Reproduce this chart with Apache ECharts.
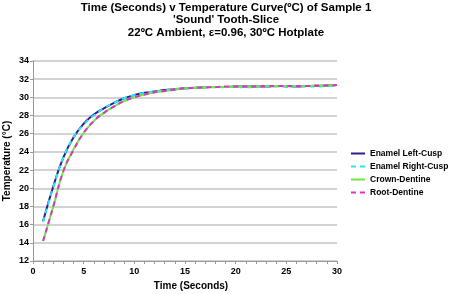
<!DOCTYPE html>
<html>
<head>
<meta charset="utf-8">
<script src="https://cdn.jsdelivr.net/npm/echarts@6/dist/echarts.min.js"></script>
<style>
  html, body { margin: 0; padding: 0; background: #fff; }
  #chart { width: 454px; height: 294px; }
</style>
</head>
<body>
<div id="chart"></div>
<script>
const seconds = [1,2,3,4,5,6,7,8,9,10,11,12,13,14,15,16,17,18,19,20,21,22,23,24,25,26,27,28,29,30];
const enamelLeft = [16.4,20.2,23.4,25.6,27.1,28.1,28.8,29.4,29.9,30.25,30.5,30.65,30.8,30.9,31.0,31.05,31.1,31.15,31.15,31.2,31.2,31.2,31.2,31.25,31.25,31.2,31.25,31.25,31.3,31.35];
const enamelRight = [16.3,20.1,23.4,25.6,27.0,28.0,28.8,29.4,29.9,30.25,30.5,30.65,30.8,30.9,30.95,31.05,31.1,31.1,31.15,31.15,31.1,31.15,31.2,31.2,31.15,31.2,31.2,31.2,31.25,31.3];
const crownDentine = [14.2,18.0,21.9,24.3,26.1,27.4,28.3,29.0,29.6,30.0,30.3,30.55,30.7,30.85,31.0,31.05,31.1,31.15,31.15,31.2,31.2,31.2,31.25,31.25,31.25,31.25,31.25,31.3,31.3,31.35];
const rootDentine = [14.2,18.0,21.9,24.2,26.1,27.4,28.3,29.0,29.6,30.0,30.3,30.55,30.7,30.85,31.0,31.05,31.1,31.15,31.2,31.2,31.2,31.2,31.25,31.25,31.25,31.25,31.25,31.3,31.3,31.35];

function pairs(ys) {
  return seconds.map((t, i) => [t, ys[i]]);
}

const chart = echarts.init(document.getElementById("chart"));
const bold = { fontFamily: "Liberation Sans, Arial, sans-serif", fontWeight: "bold", color: "#000" };

function line(name, ys, color, dashed) {
  return {
    name: name,
    type: "line",
    smooth: true,
    symbol: "none",
    data: pairs(ys),
    lineStyle: { color: color, width: 2, type: dashed ? [5, 4] : "solid" },
    itemStyle: { color: color },
  };
}

const solidIcon = "path://M0,4 H14 V6 H0 Z";
const dashIcon = "path://M0,4 H5 V6 H0 Z M9,4 H14 V6 H9 Z";

chart.setOption({
  animation: false,
  title: {
    text: "Time (Seconds) v Temperature Curve(\u00baC) of Sample 1\n'Sound' Tooth-Slice\n22\u00baC Ambient, \u03b5=0.96, 30\u00baC Hotplate",
    left: 221,
    textAlign: "center",
    top: -4,
    textStyle: Object.assign({}, bold, { fontSize: 11.5, lineHeight: 12.8 }),
  },
  legend: {
    orient: "vertical",
    left: 346,
    top: 144,
    itemWidth: 14,
    itemHeight: 10,
    itemGap: 4,
    textStyle: Object.assign({}, bold, { fontSize: 8.5 }),
    data: [
      { name: "Enamel Left-Cusp", icon: solidIcon },
      { name: "Enamel Right-Cusp", icon: dashIcon },
      { name: "Crown-Dentine", icon: solidIcon },
      { name: "Root-Dentine", icon: dashIcon },
    ],
  },
  grid: { left: 33, right: 117, top: 61, bottom: 33, outerBoundsMode: "none" },
  xAxis: {
    type: "value",
    min: 0,
    max: 30,
    interval: 5,
    name: "Time (Seconds)",
    nameLocation: "middle",
    nameGap: 20,
    nameMoveOverlap: false,
    nameTextStyle: Object.assign({}, bold, { fontSize: 10, padding: [0, 0, 0, 12] }),
    axisLine: { lineStyle: { color: "#999", width: 1 } },
    axisTick: { show: true, length: 3, lineStyle: { color: "#999" } },
    minorTick: { show: true, splitNumber: 5, length: 3, lineStyle: { color: "#999" } },
    splitLine: { show: false },
    axisLabel: Object.assign({}, bold, { fontSize: 9, margin: 6 }),
  },
  yAxis: {
    type: "value",
    min: 12,
    max: 34,
    interval: 2,
    name: "Temperature (\u00b0C)",
    nameLocation: "middle",
    nameGap: 21,
    nameMoveOverlap: false,
    nameTextStyle: Object.assign({}, bold, { fontSize: 10 }),
    axisLine: { show: true, lineStyle: { color: "#999", width: 1 } },
    axisTick: { show: true, length: 3, lineStyle: { color: "#999" } },
    splitLine: { show: true, lineStyle: { color: "#c4c4c4", width: 1.5 } },
    axisLabel: Object.assign({}, bold, { fontSize: 9, margin: 4 }),
  },
  series: [
    line("Enamel Left-Cusp", enamelLeft, "#2f1d8c", false),
    line("Enamel Right-Cusp", enamelRight, "#2fe3f0", true),
    line("Crown-Dentine", crownDentine, "#6ee83a", false),
    line("Root-Dentine", rootDentine, "#dd33cc", true),
  ],
});
</script>
</body>
</html>
